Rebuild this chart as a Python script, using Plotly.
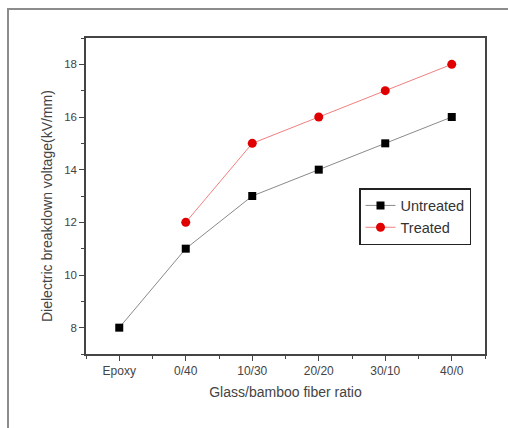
import plotly.graph_objects as go

categories = ["Epoxy", "0/40", "10/30", "20/20", "30/10", "40/0"]
untreated = [8, 11, 13, 14, 15, 16]
treated = [None, 12, 15, 16, 17, 18]
x_pos = list(range(len(categories)))

fig = go.Figure()
fig.add_trace(go.Scatter(
    x=x_pos, y=untreated, name="Untreated", mode="lines+markers",
    line=dict(color="#8a8a8a", width=1),
    marker=dict(symbol="square", size=8, color="#000000"),
))
fig.add_trace(go.Scatter(
    x=x_pos, y=treated, name="Treated", mode="lines+markers",
    line=dict(color="#f08080", width=1),
    marker=dict(symbol="circle", size=9, color="#e00000"),
    connectgaps=False,
))

L, R, T, B = 86, 23, 38, 74
W, H = 508, 428
pw, ph = W - L - R, H - T - B

fig.update_layout(
    width=W, height=H,
    margin=dict(l=L, r=R, t=T, b=B),
    paper_bgcolor="white", plot_bgcolor="white",
    font=dict(family="Liberation Sans, Arial, sans-serif", color="#333333"),
    showlegend=True,
    legend=dict(
        x=(359 - L) / pw, y=1 - (188 - T) / ph, xanchor="left", yanchor="top",
        bordercolor="#222222", borderwidth=1.5, bgcolor="white",
        font=dict(size=14.5, color="#333333"),
        itemwidth=30, tracegroupgap=0,
    ),
    xaxis=dict(
        range=[-0.5, 5.5], tickmode="array", tickvals=x_pos, ticktext=categories,
        showline=True, linecolor="#444444", linewidth=1.5, mirror=True,
        ticks="outside", ticklen=5, tickcolor="#444444", tickwidth=1,
        showgrid=False, zeroline=False,
        tickfont=dict(size=12, color="#444444"),
        minor=dict(tickmode="linear", tick0=0.5, dtick=1, ticks="outside",
                   ticklen=3, tickcolor="#444444", showgrid=False),
        title=dict(text="Glass/bamboo fiber ratio", font=dict(size=14, color="#444444"), standoff=10),
    ),
    yaxis=dict(
        range=[7, 19], tickmode="linear", tick0=8, dtick=2,
        showline=True, linecolor="#444444", linewidth=1.5, mirror=True,
        ticks="outside", ticklen=5, tickcolor="#444444", tickwidth=1,
        showgrid=False, zeroline=False,
        tickfont=dict(size=11.5, color="#444444"),
        minor=dict(tickmode="linear", tick0=7, dtick=1, ticks="outside",
                   ticklen=3, tickcolor="#444444", showgrid=False),
    ),
    annotations=[dict(
        text="Dielectric breakdown voltage(kV/mm)", textangle=-90,
        xref="paper", yref="paper", x=(47 - L) / pw, y=1 - (206 - T) / ph,
        xanchor="center", yanchor="middle", showarrow=False,
        font=dict(size=14, color="#444444"),
    )],
    shapes=[dict(
        type="rect", xref="paper", yref="paper",
        x0=(8 - L) / pw, x1=(W + 20 - L) / pw,
        y0=-(H + 20 - T - ph) / ph, y1=1 + (T - 9) / ph,
        line=dict(color="#8c8c8c", width=2), fillcolor="rgba(0,0,0,0)", layer="below",
    )],
)

fig.write_html("out.html")
